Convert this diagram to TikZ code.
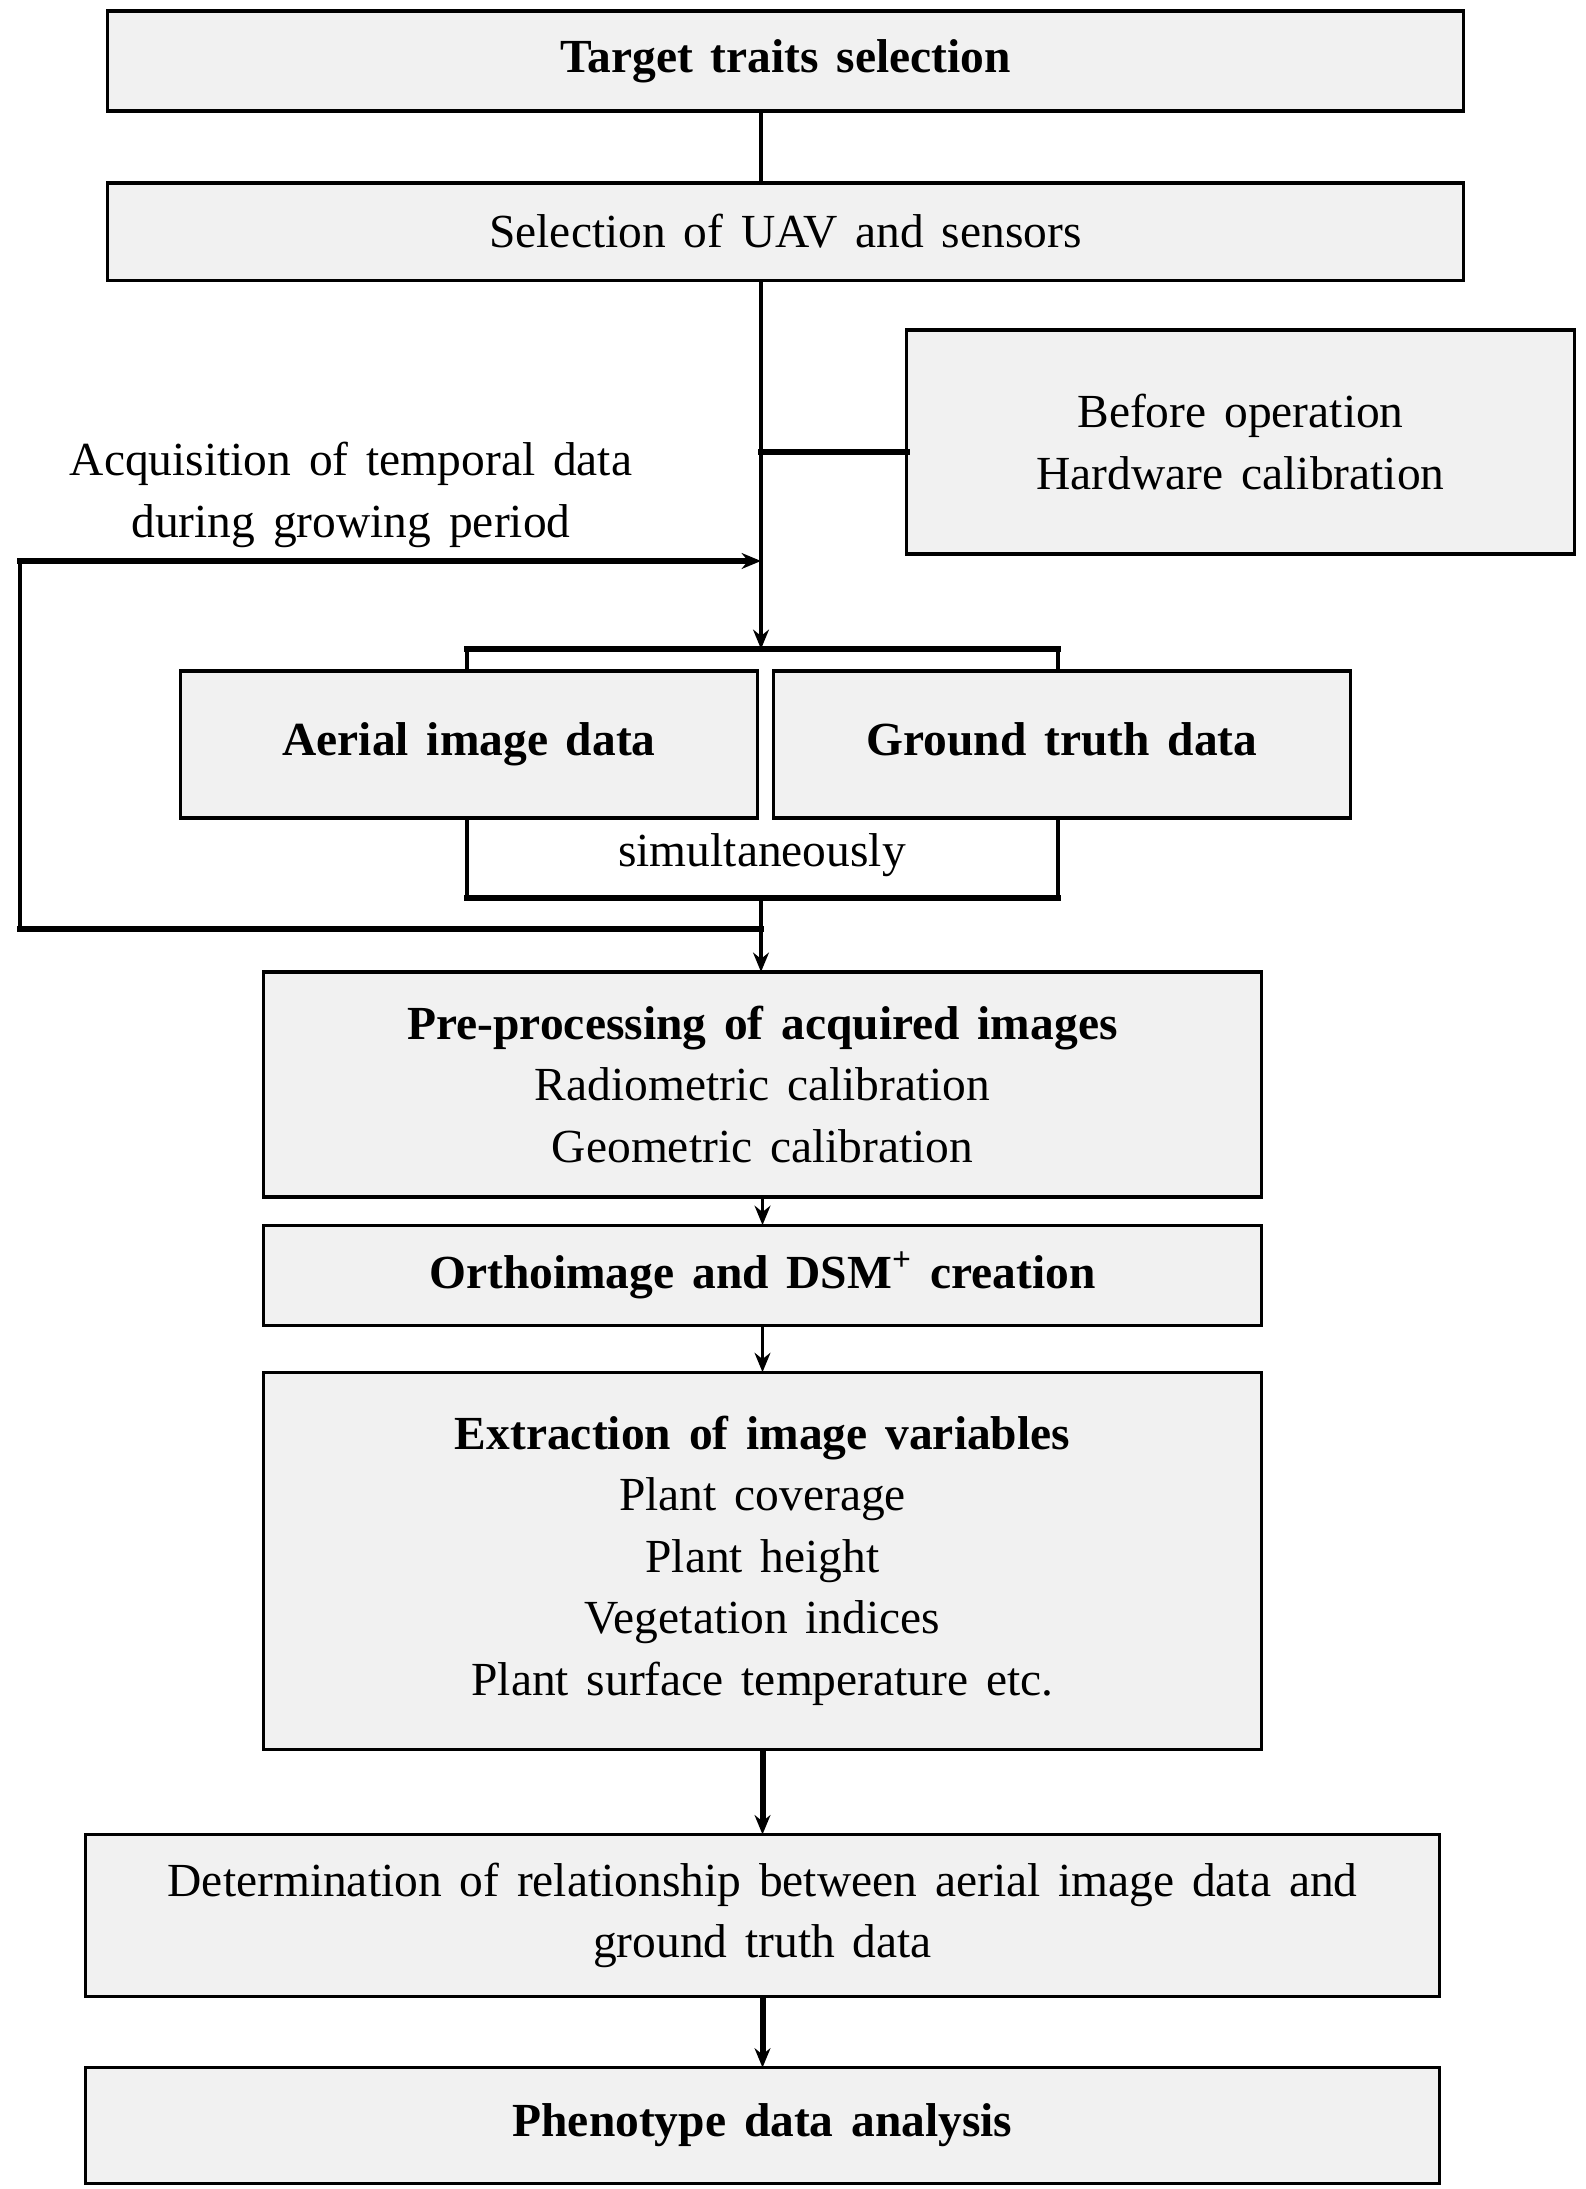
\documentclass[tikz,border=0pt]{standalone}
\usepackage{fontspec}
\setmainfont{Liberation Serif}[WordSpace=1.5]
\usetikzlibrary{arrows.meta, positioning, calc}
\definecolor{boxGray}{RGB}{241,241,241}
\tikzset{
    >={Stealth[length=5.5pt,width=4.5pt]},
    % Boxes
    box/.style={rectangle, draw=black, line width=0.9pt, fill=boxGray, outer sep=0pt,
                align=center, inner sep=2pt, font=\fontsize{13.5}{17.5}\selectfont},
    wideBox/.style={box, minimum width=13.55cm},
    midBox/.style={box, minimum width=9.97cm},
    halfBox/.style={box, minimum width=5.76cm, minimum height=1.47cm, text height=9.5pt, text depth=3pt},
    % Lines & Labels
    vLine/.style={line width=1.1pt, line cap=rect},
    hLine/.style={line width=1.7pt, line cap=rect},
    flow/.style={->, line width=1.1pt},
    lbl/.style={align=center, font=\fontsize{13.5}{17.5}\selectfont}
}

\begin{document}
\begin{tikzpicture}[x=0.01cm, y=-0.01cm]

\path[use as bounding box, fill=white] (0,0) rectangle (1585,2189);

\node[wideBox, minimum height=1cm] (target) at (785.5,61) {\textbf{Target traits selection}};
\node[wideBox, minimum height=0.97cm, below=0.72cm of target] (uav) {Selection of UAV and sensors};
\node[box, minimum width=6.67cm, minimum height=2.24cm] (before) at (1240.5,442) {Before operation\\Hardware calibration};

\node[halfBox] (aerial) at (469,744.5) {\textbf{Aerial image data}};
\node[halfBox] (ground) at (1062,744.5) {\textbf{Ground truth data}};

\node[midBox, minimum height=2.25cm] (prep) at (762.5,1084.5) {\textbf{Pre-processing of acquired images}\\Radiometric calibration\\Geometric calibration};
\node[midBox, minimum height=1cm, below=0.28cm of prep] (ortho) {\textbf{Orthoimage and DSM\textsuperscript{+} creation}};
\node[midBox, minimum height=3.77cm, below=0.47cm of ortho] (extract) {\textbf{Extraction of image variables}\\Plant coverage\\Plant height\\Vegetation indices\\Plant surface temperature etc.};
\node[wideBox, minimum width=13.53cm, minimum height=1.62cm, below=0.85cm of extract] (relation) {Determination of relationship between aerial image data and\\ground truth data};
\node[wideBox, minimum width=13.53cm, minimum height=1.16cm, below=0.71cm of relation] (pheno) {\textbf{Phenotype data analysis}};

\node[lbl] (acq) at (351,495) {Acquisition of temporal data\\during growing period};
\node[lbl] (simul) at (762,855) {simultaneously};

\coordinate (trunk) at (761,0);
\coordinate (tap) at (761,452);
\coordinate (brTL) at (467,649);
\coordinate (brTR) at (1058,649);
\coordinate (brBL) at (467,898);
\coordinate (brBR) at (1058,898);
\coordinate (join) at (761,929);
\coordinate (loopTop) at (20,561);
\coordinate (loopIn) at (761,561);

\draw[vLine] (target.south -| trunk) -- (uav.north -| trunk);
\draw[flow] (uav.south -| trunk) -- (trunk |- brTL);
\draw[hLine] (tap) -- (tap -| before.west);

% split / merge
\draw[hLine] (brTL) -- (brTR);
\draw[vLine] (brTL) -- (brTL |- aerial.north);
\draw[vLine] (brTR) -- (brTR |- ground.north);
\draw[vLine] (brTL |- aerial.south) -- (brBL);
\draw[vLine] (brTR |- ground.south) -- (brBR);
\draw[hLine] (brBL) -- (brBR);
\draw[flow] (trunk |- brBL) -- (prep.north -| trunk);

% repeat over the season
\draw[hLine] (join) -- (join -| loopTop);
\draw[vLine] (join -| loopTop) -- (loopTop);
\draw[hLine, ->] (loopTop) -- (loopIn);

\draw[flow] (prep) -- (ortho);
\draw[flow] (ortho) -- (extract);
\draw[flow, line width=1.7pt] (extract) -- (relation);
\draw[flow, line width=1.7pt] (relation) -- (pheno);

\end{tikzpicture}
\end{document}
